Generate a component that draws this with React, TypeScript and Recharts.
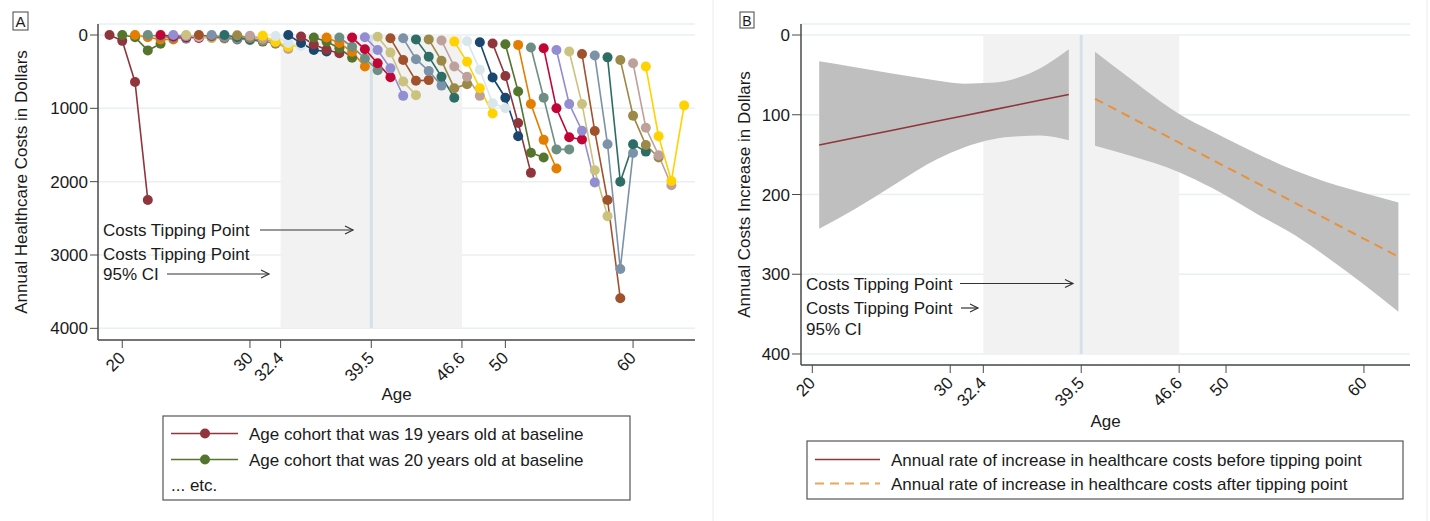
import { LineChart, Line, XAxis, YAxis, CartesianGrid, ReferenceArea, ReferenceLine, ComposedChart, Area } from "recharts";

const FONT = '"Liberation Sans", Arial, Helvetica, sans-serif';

// Panel A: each cohort is followed for 4 consecutive years
const cohortBaselineAges = [19, 20, 21, 22, 23, 24, 25, 26, 27, 28, 29, 30, 31, 32, 33, 34, 35, 36, 37, 38, 39, 40, 41, 42, 43, 44, 45, 46, 47, 48, 49, 50, 51, 52, 53, 54, 55, 56, 57, 58, 59, 60, 61];
const followUpYears = [0, 1, 2, 3];
const cohortCosts = [
  [0, 80, 640, 2250],
  [0, 30, 210, 120],
  [0, 30, 60, 60],
  [0, 20, 40, 50],
  [0, 20, 30, 40],
  [0, 15, 30, 40],
  [0, 20, 40, 50],
  [0, 20, 40, 60],
  [0, 30, 50, 70],
  [0, 30, 60, 90],
  [5, 40, 80, 120],
  [10, 50, 100, 190],
  [10, 90, 160, 140],
  [15, 110, 150, 120],
  [0, 110, 205, 225],
  [20, 130, 200, 250],
  [35, 90, 180, 310],
  [35, 110, 230, 430],
  [35, 160, 320, 480],
  [35, 195, 385, 575],
  [30, 205, 455, 830],
  [25, 240, 635, 820],
  [45, 340, 625, 615],
  [45, 330, 490, 690],
  [60, 295, 570, 855],
  [60, 350, 725, 670],
  [75, 430, 570, 830],
  [90, 365, 725, 1070],
  [85, 475, 930, 1000],
  [100, 580, 855, 1380],
  [115, 560, 1200, 1880],
  [125, 770, 1605, 1670],
  [135, 940, 1430, 1820],
  [170, 855, 1560, 1560],
  [180, 1000, 1395, 1425],
  [205, 940, 1305, 2010],
  [225, 940, 1845, 2470],
  [260, 1310, 2250, 3590],
  [280, 1490, 3190, 1610],
  [305, 2000, 1490, 1590],
  [340, 1100, 1500, 1670],
  [385, 1265, 1640, 2050],
  [430, 1380, 1990, 960],
];

// stata s2color cycle
const stataColors = ["#1a476f", "#90353b", "#55752f", "#e37e00", "#6e8e84", "#c10534", "#938dd2", "#cac27e", "#a0522d", "#7b92a8", "#2d6d66", "#9c8847", "#bfa19c", "#ffd200", "#d9e6eb"];

const ageTicks = [20, 30, 32.4, 39.5, 46.6, 50, 60];
const costTicks = [0, 1000, 2000, 3000, 4000];
const increaseTicks = [0, 100, 200, 300, 400];
const tippingPoint = 39.5;
const tippingLow = 32.4;
const tippingHigh = 46.6;

// Panel B: fitted rate and 95% CI
const beforeAges = [20.5, 23, 26, 29, 31, 33, 35, 36.5, 38.6];
const beforeFit = [138, 129.2, 118.7, 108.2, 101.2, 94.2, 87.1, 81.9, 74.5];
const beforeUpper = [33, 40, 49, 57, 61, 60, 53, 42, 18];
const beforeLower = [243, 219, 187, 156, 141, 131, 127, 126, 132];

const afterAges = [40.5, 43, 46.6, 49, 52.4, 55, 57.2, 60, 62.5];
const afterFit = [80, 102.5, 135, 156.5, 187, 210.5, 230, 255.5, 278];
const afterUpper = [21, 54, 99, 121, 150, 170, 184, 198, 210];
const afterLower = [139, 151, 172, 192, 226, 251, 277, 313, 347];

const AXIS = "#4a4a4a";
const TEXT = "#1a1a1a";
const GRID = "#e8f0f2";

const AngledTick = ({ x, y, payload }: any) => (
  <text
    x={x + 4}
    y={y + 9}
    transform={`rotate(-45 ${x + 4} ${y + 9})`}
    textAnchor="end"
    fontSize={17}
    fontFamily={FONT}
    fill={TEXT}
  >
    {payload.value}
  </text>
);

const Arrow = ({ x1, x2, y }: { x1: number; x2: number; y: number }) => (
  <g stroke="#333" strokeWidth={1.2} fill="none">
    <line x1={x1} y1={y} x2={x2} y2={y} />
    <polyline points={`${x2 - 8},${y - 4} ${x2},${y} ${x2 - 8},${y + 4}`} />
  </g>
);

function PanelA() {
  return (
    <div style={{ position: "absolute", left: 0, top: 0 }}>
      <LineChart width={700} height={521} margin={{ top: 24, right: 5, left: 0, bottom: 151 }}>
        <CartesianGrid horizontal vertical={false} stroke={GRID} strokeWidth={1.5} />
        <ReferenceArea x1={tippingLow} x2={tippingHigh} y1={0} y2={4000} fill="#f2f2f2" fillOpacity={1} stroke="none" />
        <ReferenceLine segment={[{ x: tippingPoint, y: 0 }, { x: tippingPoint, y: 4000 }]} stroke="#d5e1ea" strokeWidth={3} />
        <XAxis
          type="number"
          dataKey="age"
          domain={[18.1, 64.85]}
          ticks={ageTicks}
          interval={0}
          allowDataOverflow
          height={30}
          tickSize={8}
          tick={<AngledTick />}
          axisLine={{ stroke: AXIS, strokeWidth: 1.5 }}
          tickLine={{ stroke: AXIS }}
        />
        <YAxis
          type="number"
          domain={[-150, 4159]}
          reversed
          ticks={costTicks}
          interval={0}
          allowDataOverflow
          width={98}
          tickSize={8}
          tickMargin={2}
          tick={{ fontSize: 17, fill: TEXT, fontFamily: FONT }}
          axisLine={{ stroke: AXIS, strokeWidth: 1.5 }}
          tickLine={{ stroke: AXIS }}
        />
        {cohortBaselineAges.map((base, i) => {
          const color = stataColors[(base - 18) % stataColors.length];
          const data = followUpYears.map((yr, j) => ({ age: base + yr, cost: cohortCosts[i][j] }));
          return (
            <Line
              key={base}
              data={data}
              dataKey="cost"
              stroke={color}
              strokeWidth={1.6}
              dot={{ r: 5, fill: color, stroke: color, strokeWidth: 0, fillOpacity: 1 }}
              activeDot={false}
              isAnimationActive={false}
            />
          );
        })}
      </LineChart>
    </div>
  );
}

function PanelB() {
  const before = beforeAges.map((age, i) => ({ age, fit: beforeFit[i], band: [beforeUpper[i], beforeLower[i]] }));
  const after = afterAges.map((age, i) => ({ age, fit: afterFit[i], band: [afterUpper[i], afterLower[i]] }));
  return (
    <div style={{ position: "absolute", left: 713, top: 0 }}>
      <ComposedChart width={717} height={521} margin={{ top: 24, right: 20, left: 0, bottom: 126 }}>
        <CartesianGrid horizontal vertical={false} stroke={GRID} strokeWidth={1.5} />
        <ReferenceArea x1={tippingLow} x2={tippingHigh} y1={0} y2={400} fill="#f2f2f2" fillOpacity={1} stroke="none" />
        <ReferenceLine segment={[{ x: tippingPoint, y: 0 }, { x: tippingPoint, y: 400 }]} stroke="#d5e1ea" strokeWidth={3} />
        <XAxis
          type="number"
          dataKey="age"
          domain={[19.18, 63.34]}
          ticks={ageTicks}
          interval={0}
          allowDataOverflow
          height={30}
          tickSize={8}
          tick={<AngledTick />}
          axisLine={{ stroke: AXIS, strokeWidth: 1.5 }}
          tickLine={{ stroke: AXIS }}
        />
        <YAxis
          type="number"
          domain={[-13.8, 413.8]}
          reversed
          ticks={increaseTicks}
          interval={0}
          allowDataOverflow
          width={88}
          tickSize={9}
          tickMargin={2}
          tick={{ fontSize: 17, fill: TEXT, fontFamily: FONT }}
          axisLine={{ stroke: AXIS, strokeWidth: 1.5 }}
          tickLine={{ stroke: AXIS }}
        />
        <Area data={before} dataKey="band" type="monotone" fill="#bfbfbf" fillOpacity={1} stroke="none" isAnimationActive={false} activeDot={false} />
        <Area data={after} dataKey="band" type="monotone" fill="#bfbfbf" fillOpacity={1} stroke="none" isAnimationActive={false} activeDot={false} />
        <Line data={before} dataKey="fit" stroke="#90353b" strokeWidth={1.6} dot={false} activeDot={false} isAnimationActive={false} />
        <Line data={after} dataKey="fit" stroke="#e8913a" strokeWidth={2} strokeDasharray="9 6" dot={false} activeDot={false} isAnimationActive={false} />
      </ComposedChart>
    </div>
  );
}

function Overlay() {
  const t = { fontFamily: FONT, fontSize: 17, fill: TEXT };
  return (
    <svg width={1430} height={521} style={{ position: "absolute", left: 0, top: 0, pointerEvents: "none" }}>
      {/* panel letters */}
      <rect x={13} y={12} width={15} height={18} fill="#fff" stroke="#444" strokeWidth={1} />
      <text x={20.5} y={27} textAnchor="middle" fontFamily={FONT} fontSize={15} fill={TEXT}>A</text>
      <rect x={740} y={12} width={14} height={16} fill="#fff" stroke="#444" strokeWidth={1} />
      <text x={747} y={25.5} textAnchor="middle" fontFamily={FONT} fontSize={14} fill={TEXT}>B</text>

      {/* panel B frame */}
      <line x1={713} y1={0} x2={713} y2={521} stroke="#ececec" />
      <line x1={1427} y1={0} x2={1427} y2={521} stroke="#ececec" />

      {/* axis titles */}
      <text x={27} y={182} transform="rotate(-90 27 182)" textAnchor="middle" {...t}>Annual Healthcare Costs in Dollars</text>
      <text x={396.5} y={400} textAnchor="middle" {...t}>Age</text>
      <text x={750} y={194.5} transform="rotate(-90 750 194.5)" textAnchor="middle" {...t}>Annual Costs Increase in Dollars</text>
      <text x={1105.5} y={427} textAnchor="middle" {...t}>Age</text>

      {/* panel A notes */}
      <text x={103} y={236} {...t}>Costs Tipping Point</text>
      <Arrow x1={260} x2={353} y={230} />
      <text x={103} y={260} {...t}>Costs Tipping Point</text>
      <text x={103} y={279.5} {...t}>95% CI</text>
      <Arrow x1={167} x2={269} y={274} />

      {/* panel B notes */}
      <text x={806} y={290} {...t}>Costs Tipping Point</text>
      <Arrow x1={960} x2={1073} y={283.5} />
      <text x={806} y={314} {...t}>Costs Tipping Point</text>
      <Arrow x1={961} x2={978} y={308} />
      <text x={806} y={335} {...t}>95% CI</text>

      {/* legend A */}
      <rect x={163} y={416} width={467} height={84} fill="#fff" stroke="#555" strokeWidth={1.2} />
      <line x1={171} y1={433.5} x2={238} y2={433.5} stroke="#90353b" strokeWidth={1.6} />
      <circle cx={205} cy={433.5} r={5} fill="#90353b" />
      <text x={249} y={439.5} {...t}>Age cohort that was 19 years old at baseline</text>
      <line x1={171} y1={459.5} x2={238} y2={459.5} stroke="#55752f" strokeWidth={1.6} />
      <circle cx={205} cy={459.5} r={5} fill="#55752f" />
      <text x={249} y={465.5} {...t}>Age cohort that was 20 years old at baseline</text>
      <text x={171} y={491} {...t}>... etc.</text>

      {/* legend B */}
      <rect x={807} y={441} width={596} height={58} fill="#fff" stroke="#555" strokeWidth={1.2} />
      <line x1={815} y1={459.5} x2={880} y2={459.5} stroke="#90353b" strokeWidth={1.6} />
      <text x={891} y={465.5} {...t}>Annual rate of increase in healthcare costs before tipping point</text>
      <line x1={815} y1={483.5} x2={880} y2={483.5} stroke="#e8a860" strokeWidth={2} strokeDasharray="9 6" />
      <text x={891} y={489.5} {...t}>Annual rate of increase in healthcare costs after tipping point</text>
    </svg>
  );
}

export default function App() {
  return (
    <div style={{ position: "absolute", left: 0, top: 0, width: 1430, height: 521, background: "#fff", fontFamily: FONT }}>
      <PanelA />
      <PanelB />
      <Overlay />
    </div>
  );
}
